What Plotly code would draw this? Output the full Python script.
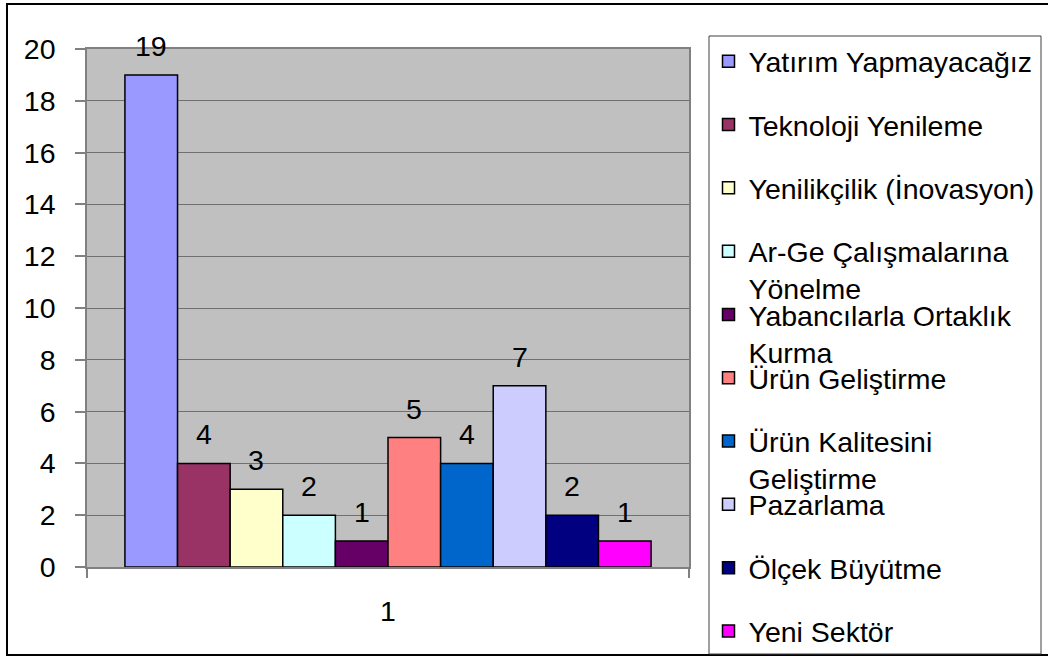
import plotly.graph_objects as go

# ---------------- data ----------------
categories = ["1"]
series_names = [
    "Yatırım Yapmayacağız",
    "Teknoloji Yenileme",
    "Yenilikçilik (İnovasyon)",
    "Ar-Ge Çalışmalarına<br>Yönelme",
    "Yabancılarla Ortaklık<br>Kurma",
    "Ürün Geliştirme",
    "Ürün Kalitesini<br>Geliştirme",
    "Pazarlama",
    "Ölçek Büyütme",
    "Yeni Sektör",
]
values = [19, 4, 3, 2, 1, 5, 4, 7, 2, 1]
colors = ["#9999FF", "#993366", "#FFFFCC", "#CCFFFF", "#660066",
          "#FF8080", "#0066CC", "#CCCCFF", "#000080", "#FF00FF"]
y_ticks = list(range(0, 21, 2))

# ---------------- layout geometry (pixels) ----------------
W, H = 1048, 657
PL, PR, PT, PB = 87, 689, 49, 567          # plot area box
FONT = "Liberation Sans, Arial, sans-serif"
FS = 28.5

def paper_x(px):
    return (px - PL) / (PR - PL)

def paper_y(py):
    return (PB - py) / (PB - PT)

group_width = 0.874
n = len(values)
bar_w = group_width / n

fig = go.Figure()
annotations = []
legend_layouts = {}
for i, (name, v, c) in enumerate(zip(series_names, values, colors)):
    off = -group_width / 2 + i * bar_w
    lid = "legend" if i == 0 else f"legend{i + 1}"
    fig.add_trace(go.Bar(
        x=categories, y=[v], name=name,
        width=bar_w, offset=off,
        marker=dict(color=c, line=dict(color="black", width=1.5)),
        legend=lid, showlegend=True,
    ))
    annotations.append(dict(
        x=off + bar_w / 2, y=v, xref="x", yref="y",
        text=str(v), showarrow=False, yanchor="bottom", yshift=11,
        font=dict(family=FONT, size=FS, color="black"),
    ))
    lines = name.count("<br>") + 1
    center_py = 61.7 + 63.3 * i + (lines - 1) * 0.5 * FS * 1.3
    legend_layouts[lid] = dict(
        xref="container", yref="container",
        x=708.5 / W, xanchor="left",
        y=1 - center_py / H, yanchor="middle",
        bgcolor="rgba(0,0,0,0)", borderwidth=0,
        valign="top",
        font=dict(family=FONT, size=FS, color="black"),
    )

shapes = [
    # outer chart border
    dict(type="rect", xref="paper", yref="paper",
         x0=paper_x(7), x1=paper_x(1060), y0=paper_y(655), y1=paper_y(4),
         line=dict(color="black", width=2), fillcolor="rgba(0,0,0,0)", layer="above"),
    # legend frame
    dict(type="rect", xref="paper", yref="paper",
         x0=paper_x(709), x1=paper_x(1041), y0=paper_y(654), y1=paper_y(36),
         line=dict(color="#404040", width=1), fillcolor="rgba(0,0,0,0)", layer="above"),
]

fig.update_layout(
    width=W, height=H,
    margin=dict(l=PL, r=W - PR, t=PT, b=H - PB, autoexpand=False),
    paper_bgcolor="white", plot_bgcolor="#C0C0C0",
    barmode="overlay",
    font=dict(family=FONT, size=FS, color="black"),
    annotations=annotations,
    shapes=shapes,
    xaxis=dict(
        type="category", range=[-0.5, 0.5],
        showline=True, linecolor="#808080", linewidth=1.5, mirror=True,
        ticks="outside", tickson="boundaries", ticklen=9, tickwidth=1.5, tickcolor="#808080",
        showgrid=False, ticklabelstandoff=18,
        tickfont=dict(family=FONT, size=FS, color="black"),
    ),
    yaxis=dict(
        range=[0, 20], tickvals=y_ticks,
        showline=True, linecolor="#808080", linewidth=1.5, mirror=True,
        ticks="outside", ticklen=10, tickwidth=1.5, tickcolor="#808080",
        showgrid=True, gridcolor="#707070", gridwidth=1, zeroline=False,
        ticklabelstandoff=14,
        tickfont=dict(family=FONT, size=FS, color="black"),
    ),
    **legend_layouts,
)

fig.write_html(
    "out.html",
    config={"displayModeBar": False},
    post_script="document.body.style.margin='0';document.body.style.overflow='hidden';",
)
